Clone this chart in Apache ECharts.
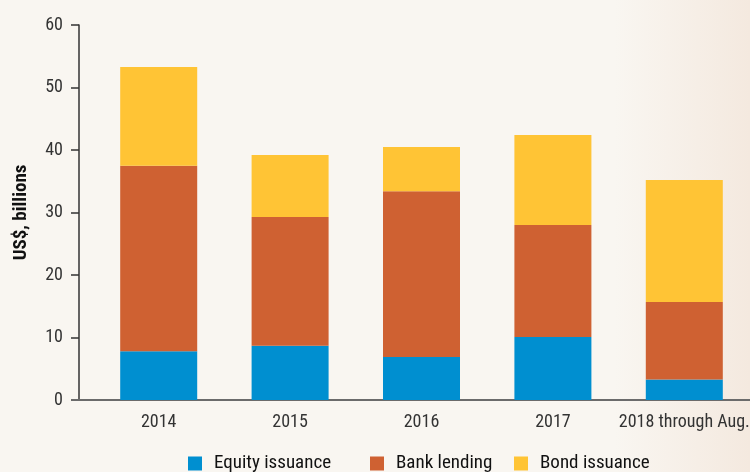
<!DOCTYPE html>
<html>
<head>
<meta charset="utf-8">
<script src="https://cdn.jsdelivr.net/npm/echarts@6/dist/echarts.min.js"></script>
<style>
html,body{margin:0;padding:0;}
#chart{width:750px;height:472px;}
</style>
</head>
<body>
<div id="chart"></div>
<script>
var categories = ['2014', '2015', '2016', '2017', '2018 through Aug.'];
var equity = [7.8, 8.7, 6.9, 10.1, 3.3];
var bank = [29.7, 20.6, 26.5, 17.9, 12.4];
var bond = [15.8, 9.9, 7.1, 14.4, 19.5];
var seriesNames = ['Equity issuance', 'Bank lending', 'Bond issuance'];
var colors = ['#008fd0', '#cf6132', '#ffc435'];
var legendLefts = [183, 365, 509];
var yTicks = [0, 10, 20, 30, 40, 50, 60];

var FONT = '"Roboto Condensed", sans-serif';
var chart = echarts.init(document.getElementById('chart'));

var legends = seriesNames.map(function (n, i) {
  return {
    data: [n],
    top: 449, left: legendLefts[i],
    itemWidth: 14, itemHeight: 14,
    icon: 'rect',
    selectedMode: false,
    textStyle: {fontFamily: FONT, fontSize: 19, color: '#111', padding: [0, 0, 0, 7]}
  };
});
var dataSets = [equity, bank, bond];
var option = {
  backgroundColor: {
    type: 'linear', x: 0, y: 0, x2: 1, y2: 0,
    colorStops: [
      {offset: 0, color: '#f9f6f1'},
      {offset: 0.82, color: '#f9f6f1'},
      {offset: 1, color: '#f4e9df'}
    ]
  },
  animation: false,
  grid: {left: 93, right: 0, top: 25, bottom: 72, outerBoundsMode: 'none'},
  legend: legends,
  xAxis: {
    type: 'category',
    data: categories,
    axisLine: {lineStyle: {color: '#6b6b6b', width: 2}},
    axisTick: {show: false},
    axisLabel: {interval: 0, fontFamily: FONT, fontSize: 18, color: '#333', margin: 13}
  },
  yAxis: {
    type: 'value',
    min: 0, max: 60, interval: 10,
    offset: 14,
    name: 'US$, billions',
    nameLocation: 'middle',
    nameGap: 48,
    nameRotate: 90,
    nameTextStyle: {fontFamily: FONT, fontSize: 19, fontWeight: 'bold', color: '#111'},
    axisLine: {show: true, lineStyle: {color: '#333', width: 1.5}},
    axisTick: {show: true, length: 8, lineStyle: {color: '#333', width: 1.5}},
    splitLine: {show: false},
    axisLabel: {fontFamily: FONT, fontSize: 18, color: '#333', margin: 16,
      formatter: function (v) { return yTicks.indexOf(v) >= 0 ? String(v) : ''; }}
  },
  series: seriesNames.map(function (n, i) {
    return {name: n, type: 'bar', stack: 'a', data: dataSets[i], barWidth: 77, itemStyle: {color: colors[i]}};
  })
};
chart.setOption(option);
var y0 = chart.convertToPixel({yAxisIndex: 0}, 0);
chart.setOption({
  graphic: [{
    type: 'line', z: 10,
    shape: {x1: 71, y1: y0, x2: 94, y2: y0},
    style: {stroke: '#6b6b6b', lineWidth: 2}
  }]
});
</script>
</body>
</html>
